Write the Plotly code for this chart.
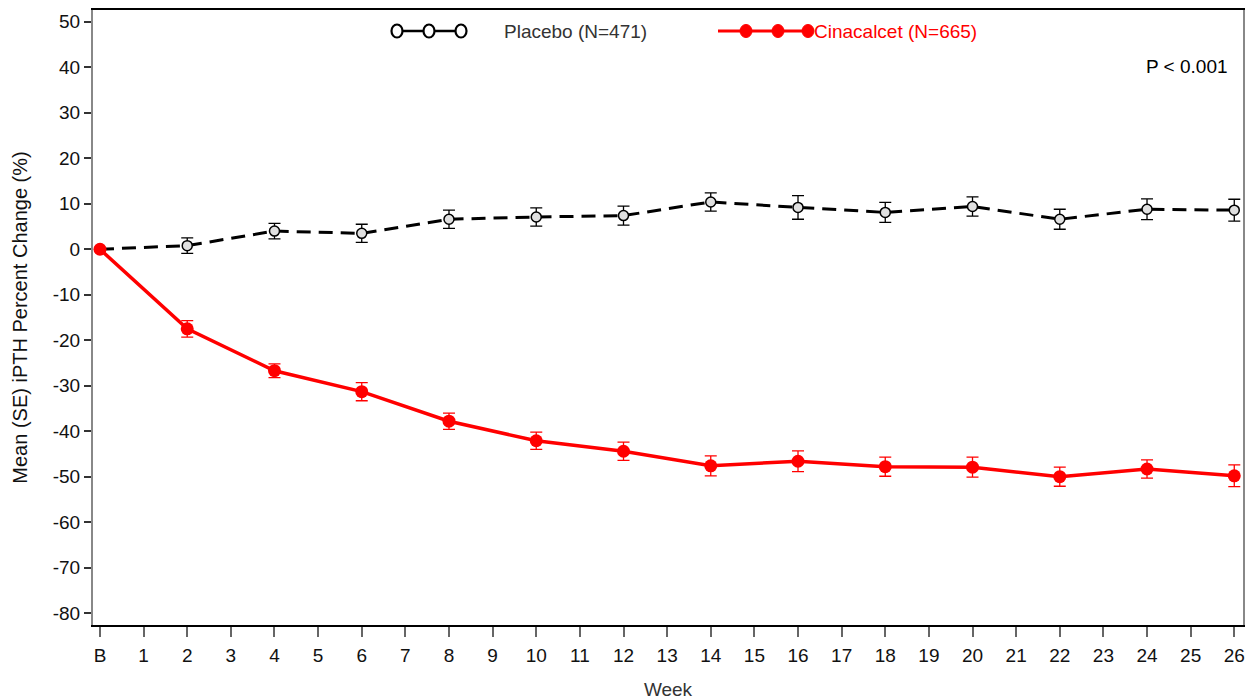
import plotly.graph_objects as go

weeks = [0, 2, 4, 6, 8, 10, 12, 14, 16, 18, 20, 22, 24, 26]
tick_vals = list(range(0, 27))
tick_text = ["B"] + [str(i) for i in range(1, 27)]
y_tick_vals = list(range(-80, 51, 10))
y_tick_text = [str(v) for v in y_tick_vals]

placebo_mean = [0, 0.8, 4.0, 3.5, 6.6, 7.1, 7.4, 10.4, 9.2, 8.1, 9.4, 6.6, 8.8, 8.6]
placebo_se = [0, 1.7, 1.7, 2.0, 2.0, 2.0, 2.1, 2.0, 2.6, 2.2, 2.1, 2.2, 2.3, 2.4]

cina_mean = [0, -17.5, -26.7, -31.3, -37.8, -42.1, -44.4, -47.6, -46.6, -47.8, -47.9, -50.0, -48.3, -49.8]
cina_se = [0, 1.8, 1.5, 2.0, 1.8, 1.9, 2.0, 2.2, 2.3, 2.1, 2.2, 2.1, 2.0, 2.4]

FONT = "Liberation Sans, Arial, sans-serif"

fig = go.Figure()

fig.add_trace(go.Scatter(
    x=weeks, y=placebo_mean, mode="lines+markers", name="Placebo (N=471)",
    line=dict(color="black", width=3, dash="14px,8px"),
    marker=dict(symbol="circle", size=10, color="#e0e0e0", line=dict(color="black", width=1.5)),
    error_y=dict(type="data", array=placebo_se, color="black", thickness=1.3, width=6, visible=True),
    showlegend=False,
))

fig.add_trace(go.Scatter(
    x=weeks, y=cina_mean, mode="lines+markers", name="Cinacalcet (N=665)",
    line=dict(color="#ff0000", width=3.5),
    marker=dict(symbol="circle", size=13, color="#ff0000"),
    error_y=dict(type="data", array=cina_se, color="#ff0000", thickness=1.3, width=6, visible=True),
    showlegend=False,
))

# Custom legend (pixel-sized markers anchored in paper coordinates)
W, H = 1252, 700
ml, mr, mt, mb = 93, 9, 10, 75
pw, ph = W - ml - mr, H - mt - mb

def px2paper(px, py):
    return (px - ml) / pw, 1 - (py - mt) / ph

shapes = []
ly = 31
x0, y0 = px2paper(397, ly)
x1, _ = px2paper(461, ly)
shapes.append(dict(type="line", xref="paper", yref="paper", x0=x0, x1=x1, y0=y0, y1=y0,
                   line=dict(color="black", width=2.5)))
for cx in [397, 429, 461]:
    xa, ya = px2paper(cx, ly)
    shapes.append(dict(type="circle", xref="paper", yref="paper", xsizemode="pixel", ysizemode="pixel",
                       xanchor=xa, yanchor=ya, x0=-5.5, x1=5.5, y0=-6.5, y1=6.5,
                       fillcolor="white", line=dict(color="black", width=2.2)))
x0, y0 = px2paper(718, ly)
x1, _ = px2paper(808, ly)
shapes.append(dict(type="line", xref="paper", yref="paper", x0=x0, x1=x1, y0=y0, y1=y0,
                   line=dict(color="#ff0000", width=3)))
for cx in [746, 778, 808]:
    xa, ya = px2paper(cx, ly)
    shapes.append(dict(type="circle", xref="paper", yref="paper", xsizemode="pixel", ysizemode="pixel",
                       xanchor=xa, yanchor=ya, x0=-6, x1=6, y0=-6.5, y1=6.5,
                       fillcolor="#ff0000", line=dict(color="#ff0000", width=1)))

annotations = []
ax, ay = px2paper(502, ly)
annotations.append(dict(xref="paper", yref="paper", x=ax, y=ay, xanchor="left", yanchor="middle",
                        text="Placebo (N=471)", showarrow=False,
                        font=dict(family=FONT, size=19, color="#333333")))
ax, ay = px2paper(812, ly)
annotations.append(dict(xref="paper", yref="paper", x=ax, y=ay, xanchor="left", yanchor="middle",
                        text="Cinacalcet (N=665)", showarrow=False,
                        font=dict(family=FONT, size=19, color="#ff0000")))
ax, ay = px2paper(1230, 66)
annotations.append(dict(xref="paper", yref="paper", x=ax, y=ay, xanchor="right", yanchor="middle",
                        text="P < 0.001", showarrow=False,
                        font=dict(family=FONT, size=19, color="black")))

fig.update_layout(
    width=W, height=H,
    margin=dict(l=ml, r=mr, t=mt, b=mb, autoexpand=False),
    paper_bgcolor="white", plot_bgcolor="white",
    font=dict(family=FONT, size=18, color="#111111"),
    shapes=shapes, annotations=annotations,
    showlegend=False,
)

fig.update_xaxes(
    range=[-0.16, 26.2], tickvals=tick_vals, ticktext=tick_text,
    ticks="outside", ticklen=10, tickwidth=2, tickcolor="#666666",
    showline=True, linecolor="black", linewidth=1.5, mirror=True,
    showgrid=False, zeroline=False, automargin=False,
    tickfont=dict(family=FONT, size=19, color="#111111"),
    ticklabelstandoff=2,
    title=dict(text="Week", font=dict(family=FONT, size=19, color="#333333"), standoff=22),
)
fig.update_yaxes(
    range=[-82.6, 52.6], tickvals=y_tick_vals, ticktext=y_tick_text,
    ticks="outside", ticklen=7, tickwidth=1.5, tickcolor="#333333",
    showline=True, linecolor="#888888", linewidth=2, mirror=True,
    showgrid=False, zeroline=False, automargin=False,
    tickfont=dict(family=FONT, size=19, color="#111111"),
    title=dict(text="Mean (SE) iPTH Percent Change (%)", font=dict(family=FONT, size=20, color="#111111"), standoff=20),
)

fig.write_html("out.html", config={"displayModeBar": False},
               post_script="document.body.style.margin='0';document.body.style.overflow='hidden';")
